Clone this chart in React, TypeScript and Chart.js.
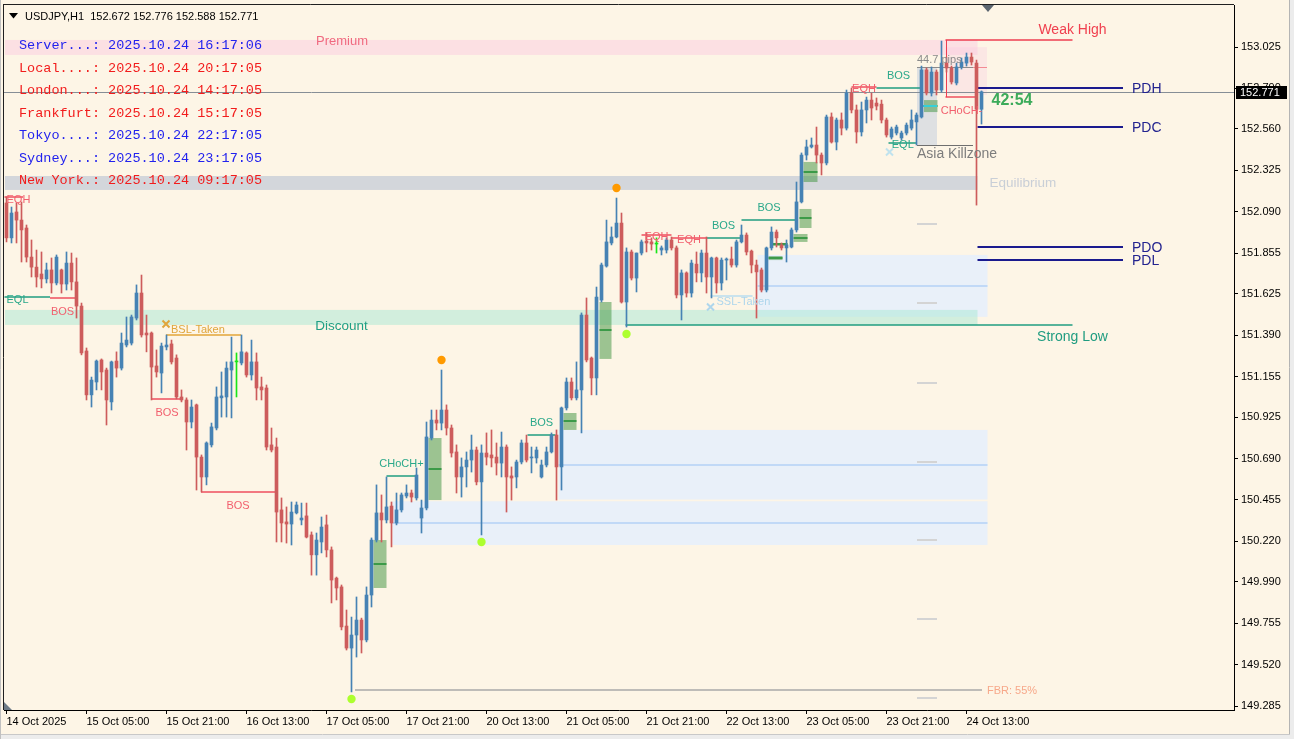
import React, { useEffect, useRef } from "react";
import { Chart, registerables } from "chart.js";

Chart.register(...registerables);

// ---------------- data ----------------
const HEADER_TEXT = "USDJPY,H1  152.672 152.776 152.588 152.771";
const X_TICK_LABELS = [
  "14 Oct 2025", "15 Oct 05:00", "15 Oct 21:00", "16 Oct 13:00", "17 Oct 05:00",
  "17 Oct 21:00", "20 Oct 13:00", "21 Oct 05:00", "21 Oct 21:00", "22 Oct 13:00",
  "23 Oct 05:00", "23 Oct 21:00", "24 Oct 13:00",
];
const BARS_PER_TICK = 16;
const TOTAL_SLOTS = 246;
const Y_TICKS = [
  153.025, 152.79, 152.56, 152.325, 152.09, 151.855, 151.625, 151.39, 151.155,
  150.925, 150.69, 150.455, 150.22, 149.99, 149.755, 149.52, 149.285,
];
const Y_MIN = 149.2625;
const Y_MAX = 153.2636;
const LAST_PRICE = 152.771;

const OPEN = [
  152.140,151.942,152.089,152.043,151.998,151.833,151.776,151.737,151.709,151.760,
  151.686,151.760,151.680,151.799,151.692,151.555,151.300,151.051,151.124,151.249,
  151.192,151.011,151.243,151.203,151.334,151.345,151.487,151.629,151.402,151.402,
  151.215,151.175,151.323,151.340,151.260,151.039,151.022,150.897,150.994,150.698,
  150.585,150.767,150.863,151.034,151.039,151.192,151.238,151.232,151.289,151.164,
  151.238,151.096,151.090,150.767,150.755,150.398,150.330,150.318,150.381,150.341,
  150.364,150.256,150.143,150.216,150.313,150.171,150.011,149.961,149.739,149.614,
  149.688,149.773,149.660,149.915,150.227,150.381,150.341,150.420,150.324,150.398,
  150.477,150.494,150.466,150.352,150.409,150.806,150.908,150.891,150.965,150.863,
  150.727,150.585,150.642,150.681,150.738,150.557,150.721,150.710,150.698,150.664,
  150.755,150.591,150.585,150.670,150.778,150.693,150.693,150.585,150.653,150.727,
  150.823,150.642,150.977,151.124,151.034,151.079,151.504,151.260,151.147,151.589,
  151.782,151.913,151.947,152.026,151.578,151.862,151.714,151.856,151.924,151.919,
  151.907,151.873,151.873,151.930,151.885,151.618,151.743,151.629,151.793,151.743,
  151.856,151.720,151.828,151.686,151.816,151.822,151.788,151.919,151.958,151.867,
  151.788,151.760,151.646,151.885,151.975,151.902,151.885,151.890,151.987,152.146,
  152.412,152.458,152.469,152.412,152.367,152.628,152.486,152.611,152.565,152.764,
  152.668,152.543,152.668,152.724,152.707,152.701,152.611,152.514,152.537,152.509,
  152.537,152.565,152.600,152.628,152.895,152.764,152.883,152.781,152.934,152.906,
  152.821,152.912,152.934,152.968,152.934,152.672,
];
const HIGH = [
  152.174,152.117,152.140,152.146,152.015,151.930,151.873,151.862,151.799,151.828,
  151.845,151.765,151.862,151.856,151.828,151.572,151.317,151.152,151.249,151.255,
  151.203,151.243,151.295,151.402,151.493,151.504,151.675,151.731,151.504,151.408,
  151.306,151.345,151.391,151.362,151.278,151.079,151.034,151.022,150.999,150.710,
  150.784,150.891,151.096,151.181,151.238,151.379,151.289,151.391,151.295,151.362,
  151.289,151.152,151.107,150.863,150.806,150.466,150.415,150.443,150.443,150.437,
  150.437,150.273,150.267,150.358,150.369,150.188,150.017,149.972,149.830,149.790,
  149.904,149.784,149.961,150.239,150.540,150.483,150.585,150.443,150.494,150.494,
  150.540,150.511,150.636,150.454,150.897,150.965,150.965,151.192,150.994,150.880,
  150.767,150.693,150.727,150.823,150.755,150.767,150.835,150.852,150.778,150.840,
  150.767,150.642,150.681,150.795,150.823,150.755,150.755,150.681,150.755,150.835,
  150.852,150.982,151.147,151.147,151.238,151.516,151.601,151.266,151.663,151.799,
  152.043,152.004,152.168,152.083,151.885,151.873,151.856,151.930,151.970,151.942,
  151.942,151.896,151.942,151.947,151.896,151.760,151.749,151.816,151.862,151.873,
  151.947,151.833,151.833,151.828,151.828,151.890,151.930,152.015,151.970,151.873,
  151.816,151.771,151.890,152.004,151.987,151.913,151.930,151.998,152.259,152.424,
  152.497,152.509,152.571,152.424,152.639,152.651,152.622,152.651,152.781,152.792,
  152.696,152.713,152.741,152.764,152.736,152.724,152.622,152.571,152.582,152.548,
  152.594,152.668,152.651,152.917,152.906,152.912,152.895,153.059,152.968,152.917,
  152.934,152.963,152.991,152.991,152.951,152.776,
];
const LOW = [
  151.919,151.913,151.913,151.805,151.805,151.720,151.663,151.658,151.686,151.629,
  151.675,151.629,151.646,151.646,151.487,151.278,151.022,150.982,151.079,151.079,
  150.880,150.965,151.152,151.192,151.323,151.334,151.476,151.379,151.295,151.022,
  151.152,151.062,151.306,151.226,151.028,151.011,150.738,150.863,150.511,150.500,
  150.540,150.755,150.852,150.925,150.925,150.920,151.039,151.221,151.152,151.135,
  151.022,151.022,150.738,150.727,150.216,150.216,150.210,150.199,150.375,150.313,
  150.239,150.028,150.028,150.154,150.131,149.870,149.887,149.717,149.603,149.365,
  149.563,149.586,149.649,149.847,150.216,150.216,150.324,150.188,150.313,150.386,
  150.466,150.443,150.454,150.267,150.398,150.795,150.852,150.852,150.823,150.698,
  150.494,150.471,150.528,150.613,150.540,150.256,150.653,150.642,150.596,150.585,
  150.386,150.454,150.523,150.659,150.670,150.608,150.664,150.579,150.642,150.721,
  150.454,150.511,150.965,151.022,151.022,150.835,151.238,151.051,151.051,151.578,
  151.776,151.902,151.942,151.572,151.436,151.703,151.635,151.845,151.862,151.873,
  151.856,151.845,151.856,151.873,151.601,151.476,151.606,151.606,151.692,151.692,
  151.629,151.601,151.629,151.646,151.703,151.776,151.776,151.913,151.845,151.743,
  151.487,151.635,151.635,151.873,151.890,151.873,151.805,151.885,151.975,152.140,
  152.384,152.452,152.367,152.299,152.356,152.480,152.441,152.526,152.554,152.651,
  152.480,152.520,152.594,152.611,152.668,152.594,152.514,152.503,152.526,152.497,
  152.526,152.554,152.469,152.622,152.753,152.747,152.753,152.770,152.883,152.815,
  152.810,152.900,152.917,152.923,152.128,152.588,
];
const CLOSE = [
  151.942,152.083,152.043,151.987,151.833,151.776,151.720,151.709,151.760,151.686,
  151.833,151.680,151.799,151.692,151.555,151.289,151.051,151.135,151.243,151.181,
  151.022,151.238,151.203,151.345,151.362,151.493,151.629,151.391,151.391,151.209,
  151.181,151.328,151.334,151.238,151.039,151.022,150.897,150.982,150.698,150.585,
  150.778,150.869,151.039,151.045,151.203,151.238,151.240,151.295,151.164,151.238,
  151.090,151.079,150.755,150.738,150.386,150.324,150.318,150.386,150.426,150.352,
  150.244,150.143,150.227,150.301,150.171,150.000,149.955,149.734,149.614,149.688,
  149.773,149.660,149.915,150.227,150.381,150.341,150.415,150.324,150.398,150.483,
  150.494,150.471,150.596,150.409,150.812,150.908,150.891,150.965,150.863,150.721,
  150.585,150.642,150.681,150.738,150.557,150.721,150.698,150.693,150.664,150.755,
  150.585,150.579,150.670,150.778,150.681,150.698,150.738,150.653,150.727,150.823,
  150.642,150.977,151.124,151.034,151.079,151.504,151.249,151.147,151.606,151.788,
  151.919,151.947,152.026,151.578,151.862,151.714,151.856,151.919,151.913,151.907,
  151.908,151.885,151.930,151.885,151.618,151.743,151.629,151.799,151.743,151.856,
  151.720,151.828,151.686,151.816,151.822,151.788,151.919,151.958,151.862,151.788,
  151.749,151.646,151.885,151.975,151.942,151.885,151.902,151.987,152.146,152.412,
  152.458,152.469,152.412,152.367,152.628,152.486,152.611,152.565,152.764,152.668,
  152.543,152.668,152.724,152.679,152.690,152.611,152.526,152.560,152.571,152.537,
  152.582,152.611,152.639,152.895,152.764,152.883,152.781,152.934,152.906,152.827,
  152.912,152.940,152.968,152.940,152.672,152.771,
];
const SIGNAL_BARS = [46, 130];
const SWING_HIGHS = [87, 122];
const SWING_LOWS = [69, 95, 124];

const CLOCK_NAMES = ["Server...", "Local....", "London...", "Frankfurt", "Tokyo....", "Sydney...", "New York."];
const CLOCK_TIMES = [
  "2025.10.24 16:17:06", "2025.10.24 20:17:05", "2025.10.24 14:17:05", "2025.10.24 15:17:05",
  "2025.10.24 22:17:05", "2025.10.24 23:17:05", "2025.10.24 09:17:05",
];
const CLOCK_IS_BLUE = [true, false, false, false, true, true, false];

const ZONE_NAMES = ["Premium", "Equilibrium", "Discount"];
const ZONE_TOP = [153.065, 152.293, 151.533];
const ZONE_BOTTOM = [152.98, 152.214, 151.448];
const ZONE_END = 194.2;

const FVG_START = [77.2, 110.4, 150.2];
const FVG_TOP = [150.447, 150.852, 151.845];
const FVG_BOTTOM = [150.199, 150.457, 151.494];
const FVG_END = 196.2;

const OB_START = [73.4, 84.4, 111.4, 118.6, 152.4, 153.2, 157.4, 158.6, 159.4, 183.5];
const OB_END = [76.0, 87.0, 114.0, 121.0, 155.2, 156.2, 160.2, 161.0, 162.2, 186.2];
const OB_TOP = [150.227, 150.806, 150.948, 151.578, 151.839, 151.913, 151.964, 152.106, 152.373, 152.724];
const OB_BOTTOM = [149.955, 150.454, 150.852, 151.255, 151.816, 151.896, 151.919, 151.998, 152.259, 152.656];

const STRUCT_TEXT = ["EQH", "EQL", "BOS", "BSL-Taken", "BOS", "BOS", "CHoCH+", "BOS", "EQH", "EQH", "BOS", "BOS", "SSL-Taken", "EQH", "BOS", "EQL", "CHoCH-"];
const STRUCT_START = [-0.4, -0.4, 8.7, 31.9, 28.9, 38.9, 76, 104.2, 127, 133, 140, 147, 140.8, 169, 174, 176.4, 187.8];
const STRUCT_END = [3.3, 8.7, 13.7, 46.9, 35.3, 53.7, 82, 109.8, 133, 140, 146.8, 158, 149.2, 174, 182.8, 182.1, 194.2];
const STRUCT_PRICE = [152.174, 151.606, 151.601, 151.391, 151.028, 150.5, 150.591, 150.823, 151.958, 151.941, 151.941, 152.043, 151.612, 152.798, 152.792, 152.48, 152.741];
const STRUCT_KIND = ["bear", "bull", "bear", "bsl", "bear", "bear", "bull", "bull", "bear", "bear", "bull", "bull", "ssl", "bear", "bull", "bull", "bear"];
const STRUCT_POS = ["onLeft", "onLeft", "below", "aboveLeft", "below", "below", "above", "above", "on", "on", "above", "above", "belowLeft", "on", "above", "on", "below"];

const WEAK_HIGH = 153.065;
const WEAK_HIGH_START = 187.8;
const STRONG_LOW = 151.448;
const STRONG_LOW_START = 123.8;
const SWING_LINE_END = 213.2;

const PD_NAMES = ["PDH", "PDC", "PDO", "PDL"];
const PD_PRICES = [152.792, 152.571, 151.89, 151.816];
const PD_START = 194.2;
const PD_END = 223.3;
const PD_LABEL_AT = 225.1;

const KILLZONE_NAME = "Asia Killzone";
const KILLZONE_START = 182.1;
const KILLZONE_END = 186.1;
const KILLZONE_HIGH = 152.912;
const KILLZONE_LOW = 152.469;
const KILLZONE_LINE_END = 193.3;
const KILLZONE_RANGE_TEXT = "44.7 pips";
const PIP_LEVELS = [152.02, 151.572, 151.118, 150.67, 150.227, 149.779, 149.33];

const PREMIUM_BOX = [187.8, 196.1, 153.025, 152.753];
const FBR_TEXT = "FBR: 55%";
const FBR_PRICE = 149.376;
const FBR_START = 69.7;
const FBR_END = 195.1;
const COUNTDOWN = "42:54";
const COUNTDOWN_PRICE = 152.719;

// ---------------- style ----------------
const BG = "#fdf5e6";
const BULL = "#4682b4";
const BEAR = "#cd5c5c";
const SIGNAL = "#19e619";
const SANS = '"Liberation Sans", Arial, sans-serif';
const MONO = '"Liberation Mono", "DejaVu Sans Mono", monospace';
const font = (size: number, weight = "normal") => `${weight} ${size}px ${SANS}`;

const KIND_LINE: Record<string, string> = { bear: "#ee4e5e", bull: "#1f9c80", bsl: "#e2a438", ssl: "#b8dcef" };
const KIND_TEXT: Record<string, string> = { bear: "#f2606e", bull: "#2aa88a", bsl: "#e0a53c", ssl: "#aed6ec" };

function hline(ctx: CanvasRenderingContext2D, x1: number, x2: number, y: number, color: string, w = 1) {
  ctx.strokeStyle = color;
  ctx.lineWidth = w;
  const yy = w % 2 === 1 ? Math.round(y) + 0.5 : Math.round(y);
  ctx.beginPath();
  ctx.moveTo(x1, yy);
  ctx.lineTo(x2, yy);
  ctx.stroke();
}
function vline(ctx: CanvasRenderingContext2D, x: number, y1: number, y2: number, color: string, w = 1) {
  ctx.strokeStyle = color;
  ctx.lineWidth = w;
  const xx = Math.round(x) + 0.5;
  ctx.beginPath();
  ctx.moveTo(xx, y1);
  ctx.lineTo(xx, y2);
  ctx.stroke();
}
function text(ctx: CanvasRenderingContext2D, s: string, x: number, y: number, color: string, f: string, align: CanvasTextAlign = "left") {
  ctx.fillStyle = color;
  ctx.font = f;
  ctx.textAlign = align;
  ctx.textBaseline = "middle";
  ctx.fillText(s, x, y);
}
function cross(ctx: CanvasRenderingContext2D, x: number, y: number, color: string) {
  ctx.strokeStyle = color;
  ctx.lineWidth = 2;
  ctx.beginPath();
  ctx.moveTo(x - 3.5, y - 3.5);
  ctx.lineTo(x + 3.5, y + 3.5);
  ctx.moveTo(x + 3.5, y - 3.5);
  ctx.lineTo(x - 3.5, y + 3.5);
  ctx.stroke();
}

const overlayPlugin = {
  id: "mtOverlay",
  beforeDraw(chart: any) {
    const ctx = chart.ctx as CanvasRenderingContext2D;
    ctx.save();
    ctx.fillStyle = BG;
    ctx.fillRect(0, 0, chart.width, chart.height);
    ctx.restore();
  },
  beforeDatasetsDraw(chart: any) {
    const ctx = chart.ctx as CanvasRenderingContext2D;
    const a = chart.chartArea;
    const xs = chart.scales.x;
    const ys = chart.scales.y;
    const X = (i: number) => xs.getPixelForValue(i);
    const Y = (p: number) => ys.getPixelForValue(p);
    ctx.save();
    ctx.beginPath();
    ctx.rect(a.left, a.top, a.right - a.left, a.bottom - a.top);
    ctx.clip();

    // fair value gaps
    FVG_START.forEach((s, k) => {
      const x1 = X(s), x2 = X(FVG_END);
      const y1 = Y(FVG_TOP[k]), y2 = Y(FVG_BOTTOM[k]);
      ctx.fillStyle = "rgba(226,238,255,0.75)";
      ctx.fillRect(x1, y1, x2 - x1, y2 - y1);
      hline(ctx, x1, x2, (y1 + y2) / 2, "#b3d2f6", 1.5);
    });

    // premium / equilibrium / discount bands
    const zoneFill = ["rgba(250,185,222,0.35)", "rgba(169,183,208,0.5)", "rgba(167,231,212,0.5)"];
    ZONE_NAMES.forEach((_, k) => {
      const y1 = Y(ZONE_TOP[k]), y2 = Y(ZONE_BOTTOM[k]);
      ctx.fillStyle = zoneFill[k];
      ctx.fillRect(a.left + 1, y1, X(ZONE_END) - a.left - 1, y2 - y1);
    });

    // premium box near last bars
    {
      const [s, e, t, b] = PREMIUM_BOX;
      ctx.fillStyle = "rgba(250,200,225,0.3)";
      ctx.fillRect(X(s), Y(t), X(e) - X(s), Y(b) - Y(t));
      hline(ctx, X(s + 3), X(e), Y(KILLZONE_HIGH), "rgba(238,78,94,0.6)");
    }

    // asia killzone
    {
      const x1 = X(KILLZONE_START), x2 = X(KILLZONE_END);
      ctx.fillStyle = "rgba(185,200,222,0.45)";
      ctx.fillRect(x1, Y(KILLZONE_HIGH), x2 - x1, Y(KILLZONE_LOW) - Y(KILLZONE_HIGH));
      hline(ctx, x1, X(KILLZONE_LINE_END), Y(KILLZONE_HIGH), "#8c8c8c");
      hline(ctx, x1, X(KILLZONE_LINE_END), Y(KILLZONE_LOW), "#6f6f6f");
      PIP_LEVELS.forEach((p) => hline(ctx, x1, x2, Y(p), "#d4d4d4", 2));
    }

    // order blocks
    OB_START.forEach((s, k) => {
      const x1 = X(s), x2 = X(OB_END[k]);
      const y1 = Y(OB_TOP[k]), y2 = Y(OB_BOTTOM[k]);
      ctx.fillStyle = "rgba(60,145,60,0.5)";
      ctx.fillRect(x1, y1, x2 - x1, y2 - y1);
      hline(ctx, x1, x2, (y1 + y2) / 2, "#3c9a48", 2);
    });
    hline(ctx, X(183.3), X(186.1), Y(152.69), "#35d0d8", 2);

    // last price line
    hline(ctx, a.left, a.right, Y(LAST_PRICE), "#868e96");

    // FBR line
    hline(ctx, X(FBR_START), X(FBR_END), Y(FBR_PRICE), "#a8a8a8", 1.5);

    // structure lines
    STRUCT_TEXT.forEach((_, k) => {
      hline(ctx, X(STRUCT_START[k]), X(STRUCT_END[k]), Y(STRUCT_PRICE[k]), KIND_LINE[STRUCT_KIND[k]], 1.5);
    });

    // weak high / strong low
    hline(ctx, X(WEAK_HIGH_START), X(SWING_LINE_END), Y(WEAK_HIGH), "#ee3e50", 1.5);
    vline(ctx, X(WEAK_HIGH_START), Y(WEAK_HIGH), Y(STRUCT_PRICE[16]), "#ee3e50");
    hline(ctx, X(STRONG_LOW_START), X(SWING_LINE_END), Y(STRONG_LOW), "#1f9c80", 1.5);

    // previous day levels
    PD_PRICES.forEach((p) => hline(ctx, X(PD_START), X(PD_END), Y(p), "#1a1a8e", 2));

    ctx.restore();
  },
  afterDatasetsDraw(chart: any) {
    const ctx = chart.ctx as CanvasRenderingContext2D;
    const a = chart.chartArea;
    const xs = chart.scales.x;
    const ys = chart.scales.y;
    const X = (i: number) => xs.getPixelForValue(i);
    const Y = (p: number) => ys.getPixelForValue(p);
    ctx.save();
    ctx.beginPath();
    ctx.rect(a.left, a.top, a.right - a.left, a.bottom - a.top);
    ctx.clip();

    // swing dots
    const dot = (x: number, y: number, c: string) => {
      ctx.fillStyle = c;
      ctx.beginPath();
      ctx.arc(x, y, 4.2, 0, Math.PI * 2);
      ctx.fill();
    };
    SWING_HIGHS.forEach((i) => dot(X(i), Y(HIGH[i]) - 10, "#ff9a00"));
    SWING_LOWS.forEach((i) => dot(X(i), Y(LOW[i]) + 7, "#adff2f"));

    // zone labels
    text(ctx, ZONE_NAMES[0], X(67.1), Y(ZONE_TOP[0]) + 1, "#f06a80", font(13), "center");
    text(ctx, ZONE_NAMES[2], X(67), Y(ZONE_BOTTOM[2]) + 1, "#1f9f84", font(13.5), "center");
    text(ctx, ZONE_NAMES[1], X(196.6), (Y(ZONE_TOP[1]) + Y(ZONE_BOTTOM[1])) / 2, "#c9cfd7", font(13.5));

    // structure labels
    STRUCT_TEXT.forEach((t, k) => {
      const y = Y(STRUCT_PRICE[k]);
      const col = KIND_TEXT[STRUCT_KIND[k]];
      const mid = (X(STRUCT_START[k]) + X(STRUCT_END[k])) / 2;
      const left = X(STRUCT_START[k]) + 2;
      const pos = STRUCT_POS[k];
      const f = font(11);
      if (pos === "above") text(ctx, t, mid, y - 12, col, f, "center");
      else if (pos === "below") text(ctx, t, mid, y + 14, col, f, "center");
      else if (pos === "on") text(ctx, t, mid, y + 2, col, f, "center");
      else if (pos === "onLeft") text(ctx, t, left, y + 3, col, f);
      else if (pos === "aboveLeft") text(ctx, t, left + 3, y - 5, col, f);
      else if (pos === "belowLeft") text(ctx, t, left + 4, y + 6, col, f);
      if (STRUCT_KIND[k] === "bsl") cross(ctx, X(STRUCT_START[k]), y - 11, "#e0a53c");
      if (STRUCT_KIND[k] === "ssl") cross(ctx, X(STRUCT_START[k]), y + 11, "#aed6ec");
    });
    cross(ctx, X(STRUCT_START[15]) + 1, Y(STRUCT_PRICE[15]) + 9, "#bfe2ee");

    // swing labels
    text(ctx, "Weak High", X(SWING_LINE_END), Y(WEAK_HIGH) - 10, "#f0404f", font(14), "center");
    text(ctx, "Strong Low", X(SWING_LINE_END), Y(STRONG_LOW) + 12, "#1f9c80", font(14), "center");

    // PD labels
    PD_NAMES.forEach((n, k) => text(ctx, n, X(PD_LABEL_AT), Y(PD_PRICES[k]) + 1, "#23238f", font(14)));

    // killzone labels
    text(ctx, KILLZONE_RANGE_TEXT, X(KILLZONE_START), Y(KILLZONE_HIGH) - 7, "#8a8a8a", font(11));
    text(ctx, KILLZONE_NAME, X(KILLZONE_START), Y(KILLZONE_LOW) + 9, "#7d7d7d", font(14));

    // countdown, FBR
    text(ctx, COUNTDOWN, X(197), Y(COUNTDOWN_PRICE), "#3cab5a", font(16, "bold"));
    text(ctx, FBR_TEXT, X(196.1), Y(FBR_PRICE) + 1, "#f7a88a", font(11));

    ctx.restore();
  },
  afterDraw(chart: any) {
    const ctx = chart.ctx as CanvasRenderingContext2D;
    const a = chart.chartArea;
    const ys = chart.scales.y;
    ctx.save();
    // frame
    vline(ctx, a.left - 1, a.top, a.bottom, "#202020");
    hline(ctx, a.left - 1, a.right, a.top - 1, "#202020");
    // outer window border
    ctx.fillStyle = "#ececec";
    ctx.fillRect(chart.width - 4, 0, 4, chart.height);
    ctx.fillRect(0, chart.height - 4, chart.width, 4);
    vline(ctx, chart.width - 5, 0, chart.height - 4, "#b4b4b4");
    hline(ctx, 0, chart.width - 4, chart.height - 5, "#c8c8c8");
    vline(ctx, 0, 0, chart.height, "#c0c0c0");

    // header
    ctx.fillStyle = "#000";
    ctx.beginPath();
    ctx.moveTo(9, 13);
    ctx.lineTo(18, 13);
    ctx.lineTo(13.5, 18.5);
    ctx.closePath();
    ctx.fill();
    text(ctx, HEADER_TEXT, 25, 16.5, "#000", font(11));

    // clocks
    CLOCK_NAMES.forEach((n, k) => {
      text(ctx, `${n}: ${CLOCK_TIMES[k]}`, 19, 45.5 + k * 22.5, CLOCK_IS_BLUE[k] ? "#2222ee" : "#f21c1c", `13.5px ${MONO}`);
    });

    // shift markers
    ctx.fillStyle = "#5c6670";
    ctx.beginPath();
    ctx.moveTo(982, a.top);
    ctx.lineTo(994, a.top);
    ctx.lineTo(988, a.top + 7);
    ctx.closePath();
    ctx.fill();
    ctx.fillStyle = "#6f7c88";
    ctx.beginPath();
    ctx.moveTo(a.left, a.bottom - 8);
    ctx.lineTo(a.left + 8, a.bottom);
    ctx.lineTo(a.left, a.bottom);
    ctx.closePath();
    ctx.fill();

    // last price box on axis
    const py = Math.round(ys.getPixelForValue(LAST_PRICE));
    ctx.fillStyle = "#000";
    ctx.fillRect(a.right + 2, py - 6, 51, 13);
    text(ctx, LAST_PRICE.toFixed(3), a.right + 6, py + 1, "#fff", font(11));
    ctx.restore();
  },
};

export default function App() {
  const ref = useRef<HTMLCanvasElement | null>(null);
  useEffect(() => {
    const canvas = ref.current;
    if (!canvas) return;
    const labels = Array.from({ length: TOTAL_SLOTS }, (_, i) => String(i));
    const colors = OPEN.map((o, i) => (SIGNAL_BARS.includes(i) ? SIGNAL : CLOSE[i] >= o ? BULL : BEAR));
    const bodies = OPEN.map((o, i) => [Math.min(o, CLOSE[i]), Math.max(o, CLOSE[i])]);
    const wicks = LOW.map((l, i) => [l, HIGH[i]]);
    const chart = new Chart(canvas, {
      type: "bar",
      data: {
        labels,
        datasets: [
          { data: bodies as any, backgroundColor: colors, barThickness: 3, minBarLength: 1, grouped: false, borderWidth: 0 },
          { data: wicks as any, backgroundColor: colors, barThickness: 1, grouped: false, borderWidth: 0 },
        ],
      },
      options: {
        responsive: false,
        animation: false,
        devicePixelRatio: 1,
        events: [],
        layout: { padding: { left: 4, top: 5, right: 0, bottom: 0 } },
        plugins: { legend: { display: false }, tooltip: { enabled: false } },
        scales: {
          x: {
            type: "category",
            offset: true,
            grid: { display: true, drawOnChartArea: false, drawTicks: true, tickLength: 4, color: "#000", offset: false },
            border: { display: true, color: "#000" },
            ticks: {
              autoSkip: false,
              maxRotation: 0,
              minRotation: 0,
              align: "start",
              padding: 1,
              color: "#000",
              font: { family: '"Liberation Sans", Arial, sans-serif', size: 11 },
              callback: (v: any) => X_TICK_LABELS[Number(v) / BARS_PER_TICK],
            },
            afterBuildTicks: (s: any) => {
              s.ticks = s.ticks.filter(
                (t: any) => t.value % BARS_PER_TICK === 0 && t.value / BARS_PER_TICK < X_TICK_LABELS.length
              );
            },
            afterFit: (s: any) => {
              s.height = 29;
              s.paddingLeft = 0;
              s.paddingRight = 0;
            },
          },
          y: {
            type: "linear",
            position: "right",
            min: Y_MIN,
            max: Y_MAX,
            grid: { display: true, drawOnChartArea: false, drawTicks: true, tickLength: 4, color: "#000" },
            border: { display: true, color: "#000" },
            ticks: {
              padding: 3,
              color: "#000",
              font: { family: '"Liberation Sans", Arial, sans-serif', size: 11 },
              callback: (v: any) => Number(v).toFixed(3),
            },
            afterBuildTicks: (s: any) => {
              s.ticks = Y_TICKS.map((v) => ({ value: v }));
            },
            afterFit: (s: any) => {
              s.width = 60;
              s.paddingTop = 0;
              s.paddingBottom = 0;
            },
          },
        },
      } as any,
      plugins: [overlayPlugin],
    });
    return () => chart.destroy();
  }, []);
  return (
    <div style={{ position: "fixed", left: 0, top: 0, width: 1294, height: 739, background: BG }}>
      <canvas ref={ref} width={1294} height={739} style={{ display: "block", width: 1294, height: 739 }} />
    </div>
  );
}
